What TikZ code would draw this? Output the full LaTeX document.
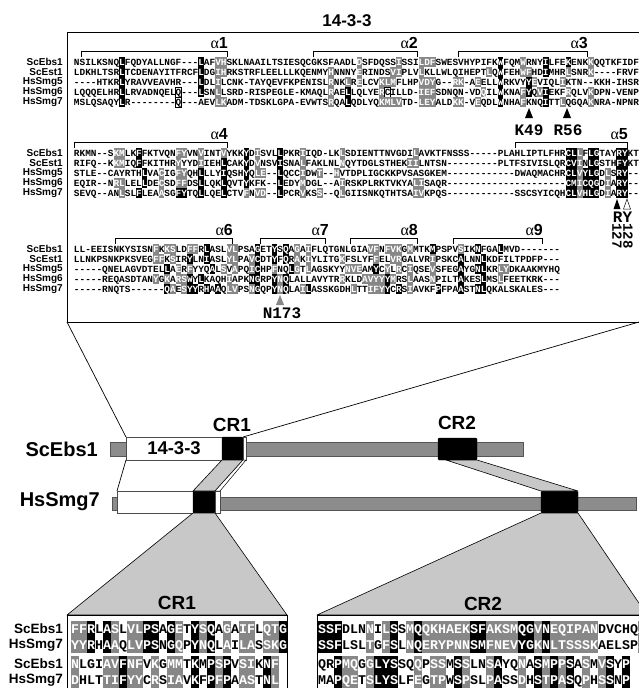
\documentclass[tikz,border=0pt]{standalone}
\usepackage{fontspec}
\setmainfont{Liberation Sans}
\newfontfamily\monof{Liberation Mono}
\newfontfamily\serf{Liberation Serif}
\usetikzlibrary{calc}
\definecolor{hlgray}{RGB}{135,135,135}
\definecolor{bargray}{RGB}{140,140,140}
\definecolor{bardark}{RGB}{85,85,85}
\definecolor{bandgray}{RGB}{200,200,200}
\newcommand\sqfs{9.42}
\newcommand\sqw{5.65}
\newcommand\sqh{10}
\newcommand\sqth{6.2}
\newcommand\sqfont{\monof\bfseries\fontsize{\sqfs}{\sqfs}\selectfont}
\newcommand\alp[1]{{\serf\mdseries α}#1}

\ExplSyntaxOn
\int_new:N \l__sq_col_int
\int_new:N \l__sq_mode_int
\int_new:N \g__sq_row_int
\tl_new:N \l__sq_x_tl
\tl_new:N \l__sq_name_tl
\cs_new_protected:Npn \__sq_cell:nnnn #1#2#3#4
  {
    \tl_set:Nx \l__sq_x_tl { \fp_eval:n { #1 + #3 * \l__sq_col_int + #3 / 2 } }
    \tl_set:Nx \l__sq_name_tl { r \int_use:N \g__sq_row_int c \int_use:N \l__sq_col_int }
    \int_case:nnF { \l__sq_mode_int }
      {
        { 1 } { \node [cellblack] (\l__sq_name_tl) at (\l__sq_x_tl , #2) {#4}; }
        { 2 } { \node [cellgray] (\l__sq_name_tl) at (\l__sq_x_tl , #2) {#4}; }
        { 3 } { \node [cellbox] (\l__sq_name_tl) at (\l__sq_x_tl , #2) {#4}; }
      }
      { \node [cellplain] (\l__sq_name_tl) at (\l__sq_x_tl , #2) {#4}; }
  }
\NewDocumentCommand \SeqRow { m m m m }
  {
    \int_gincr:N \g__sq_row_int
    \int_zero:N \l__sq_col_int
    \int_zero:N \l__sq_mode_int
    \tl_map_inline:nn {#4}
      {
        \str_if_eq:nnTF {##1} {!}
          { \int_set:Nn \l__sq_mode_int { 1 } }
          {
            \str_if_eq:nnTF {##1} {?}
              { \int_set:Nn \l__sq_mode_int { 2 } }
              {
                \str_if_eq:nnTF {##1} {*}
                  { \int_set:Nn \l__sq_mode_int { 3 } }
                  {
                    \__sq_cell:nnnn {#1} {#2} {#3} {##1}
                    \int_incr:N \l__sq_col_int
                    \int_zero:N \l__sq_mode_int
                  }
              }
          }
      }
  }
\ExplSyntaxOff

\tikzset{
  cell/.style={rectangle, inner sep=0pt, outer sep=0pt, minimum width=\sqw pt,
    minimum height=\sqh pt, text height=\sqth pt, text depth=0pt, font=\sqfont},
  cellplain/.style={cell},
  cellblack/.style={cell, fill=black, text=white},
  cellgray/.style={cell, fill=hlgray, text=white},
  cellbox/.style={cell, fill=white, draw=black, line width=0.6pt},
  lbl/.style={font=\bfseries\fontsize{10}{10}\selectfont, anchor=east, inner sep=0pt},
  alab/.style={font=\bfseries\fontsize{16}{16}\selectfont, anchor=south east, inner sep=0pt},
  brk/.style={line width=0.9pt},
  frame/.style={line width=0.8pt},
  conn/.style={line width=0.7pt},
  reslab/.style={font=\monof\bfseries\fontsize{16}{16}\selectfont, inner sep=0pt},
  biglbl/.style={font=\bfseries\fontsize{20}{20}\selectfont, anchor=east, inner sep=0pt},
  crlbl/.style={font=\bfseries\fontsize{19}{19}\selectfont, inner sep=0pt},
  panlbl/.style={font=\bfseries\fontsize{13.5}{13.5}\selectfont, anchor=east, inner sep=0pt},
  bar/.style={rectangle, fill=bargray, draw=bardark, line width=0.5pt, inner sep=0pt, outer sep=0pt},
  dom/.style={rectangle, fill=white, draw=black!70, line width=0.5pt, inner sep=0pt, outer sep=0pt},
  crbox/.style={rectangle, fill=black, draw=black, rounded corners=1.2pt, inner sep=0pt, outer sep=0pt},
  band/.style={fill=bandgray, draw=black, line width=0.6pt, line join=round},
  panel/.style={rectangle, fill=white, draw=black, line width=0.8pt, inner sep=0pt, outer sep=0pt},
}

\begin{document}
\begin{tikzpicture}[x=1pt,y=-1pt]
\useasboundingbox (0,0) rectangle (639,688);
\clip (0,0) rectangle (639,688);

% ---------- title and frame ----------
\node[font=\bfseries\fontsize{17}{17}\selectfont, inner sep=0pt] (title) at (347,21) {14-3-3};
\coordinate (fTL) at (67,32);
\coordinate (fTR) at (645,32);
\coordinate (fBL) at (67,322);
\coordinate (fBR) at (639,322);
\draw[frame] (fTR) -- (fTL) -- (fBL) -- (645,322);

% ---------- row labels ----------
\foreach \n [count=\i from 0] in {ScEbs1,ScEst1,HsSmg5,HsSmg6,HsSmg7} {
  \node[lbl] (la\i) at (63,62+10*\i) {\n};
  \node[lbl] (lb\i) at (63,153+10*\i) {\n};
  \node[lbl] (lc\i) at (63,249+10*\i) {\n};
}

% ---------- helices block 1 ----------
\draw[brk] (81,57) -- (81,51) -- (227,51) -- (227,57);
\node[alab] (h1) at (228,49) {\alp{1}};
\draw[brk] (313,57) -- (313,51) -- (417,51) -- (417,57);
\node[alab] (h2) at (418,49) {\alp{2}};
\draw[brk] (458,57) -- (458,51) -- (587,51) -- (587,57);
\node[alab] (h3) at (588,49) {\alp{3}};

% ---------- block 1 ----------
\SeqRow{74}{62}{5.65}{NSILKSNQ!LFQDYALLNGF---!LAF?V?HSKLNAAILTSIESQCGKSFAADL?DSFDQSS?ISSI?L?D?FSWESVHYPIFK!WFQM?WRNY!ILFE!KENK?KQQTKFIDF}
\SeqRow{74}{72}{5.65}{LDKHLTSR!LTCDENAYITFRCF!LDG?I?HRKSTRFLEELLLKQENMY?HNNNY?ERINDS?V?IPLV?LKLLWLQIHEPT?LQ!WFEH?W?FHD!IMHR?LSNR?K----FRVF}
\SeqRow{74}{82}{5.65}{----HTKR!LYRAVVEAVHR---!LDL?ILCNK-TAYQEVFKPENISL?RNK?LR?ELCV?K?L?MFLHP?V?D?YG--?R?K-A?EELL!WRKVY!Y?EVIQL?IKTN--KKH-IHSR}
\SeqRow{74}{92}{5.65}{LQQQELHR!LLRVADNQEL*Q---!LSN?LLSRD-RISPEGLE-KMAQL?RAE!LLQLYE?R*CILLD-?I?E?FSDNQN-VD?QIL!WKNA?F!YQ?V!IEKF?RQLV?KDPN-VENP}
\SeqRow{74}{102}{5.65}{MSLQSAQY!LR--------*Q---AEV?L?KADM-TDSKLGPA-EVWTS?RQA!LQDLYQ?K?M?L?VTD-?L?E?YALD?K?K-V?EQDL!WNHA?FKNQ!ITT?LQGQA?KNRA-NPNR}

% ---------- K49 / R56 ----------
\fill (529,108) -- (533,118) -- (525,118) -- cycle;
\node[reslab] (k49) at (529,130) {K49};
\fill (567,108) -- (571,118) -- (563,118) -- cycle;
\node[reslab] (r56) at (568,130) {R56};

% ---------- helices block 2 ----------
\draw[brk] (74,148) -- (74,142) -- (227,142) -- (227,148);
\node[alab] (h4) at (228,140) {\alp{4}};
\draw[brk] (515,148) -- (515,142) -- (627,142) -- (627,148);
\node[alab] (h5) at (628,140) {\alp{5}};

% ---------- block 2 ----------
\SeqRow{74}{153}{5.65}{RKMN--S?K?MLK!FFKTVQN?F?YVN?VINT?VYKK!YD?ISVL!LPKR?IIQD-LK?LSDIENTTNVGDI?LAVKTFNSSS-----PLAHLIPTLFHR!C!L?LF!L!GTAY!R!YKT}
\SeqRow{74}{163}{5.65}{RIFQ--K?K?MIQ!FFKITHR?YYYD?IIEH!LCAK!YD?VNSV!ISNA?LFAKLNL?NQYTDGLSTHEK?I?ILNTSN---------PLTFSIVISLQR!C!V?IN!L!GSTH!F!YKT}
\SeqRow{74}{173}{5.65}{STLE--CAYRTH!LVA?CIG?F?YQH!LLLY!IQSH!YQ?L?E--!LQCC?IDW?T--?HVTDPLIGCKKPVSASGKEM------------DWAQMACHR!C!L?V!Y!L!GD?LS!R!Y--}
\SeqRow{74}{183}{5.65}{EQIR--N?R?LLEL!LDE?CSD?F?FDS!LLQK!LQVT!YKFK--!LEDY?MDGL--A?IRSKPLRKTVKYA?L?ISAQR---------------------!C!M?I!C!Q!GD?IA!R!Y--}
\SeqRow{74}{193}{5.65}{SEVQ--AN?LSL!FLEA?ASG!F!YTQ!LLQE!LCTV?FN?V?D--!LPCR?VKS?S--Q?LGIISNKQTHTSA?I?VKPQS------------SSCSYICQH!C!L?V!H!L!GD?IA!R!Y--}

% ---------- RY 127/128 ----------
\fill (617,199) -- (620.5,209) -- (613.5,209) -- cycle;
\draw[fill=white, line width=0.5pt] (627,199) -- (630.5,209) -- (623.5,209) -- cycle;
\node[reslab] (ry) at (622.5,217) {RY};
\node[reslab, font=\monof\bfseries\fontsize{14}{14}\selectfont, rotate=-90, anchor=west] (n127) at (617,223) {127};
\node[reslab, font=\monof\bfseries\fontsize{14}{14}\selectfont, rotate=-90, anchor=west] (n128) at (628,223) {128};

% ---------- helices block 3 ----------
\draw[brk] (115,244) -- (115,238) -- (232,238) -- (232,244);
\node[alab] (h6) at (233,236) {\alp{6}};
\draw[brk] (260,244) -- (260,238) -- (325,238) -- (325,244);
\node[alab] (h7) at (329,236) {\alp{7}};
\draw[brk] (350,244) -- (350,238) -- (417,238) -- (417,244);
\node[alab] (h8) at (418,236) {\alp{8}};
\draw[brk] (453,244) -- (453,238) -- (542,238) -- (542,244);
\node[alab] (h9) at (543,236) {\alp{9}};

% ---------- block 3 ----------
\SeqRow{74}{249}{5.65}{LL-EEISNKYSISN?FK?K?SLD?F?FR!LASL?V?LPSA!GET!YS!QA?GA?IFLQTGNLGIA?V?FN?F?V?KG?MMTK!MPSPV?SIK!NFGA!LMVD-------}
\SeqRow{74}{259}{5.65}{LLNKPSNKPKSVEG?F?FK?SIR!YLN!IASL?Y?LPA?V!CDT!YF!QR?AK?IYLITG?KFSLYF?FEL?V?RGALVR?IPSKC!ALNN!LKDFILTPDFP---}
\SeqRow{74}{269}{5.65}{-----QNELAGVDTEL!LA?ER?FYYQ!AL?SV?APQ?I!CHP?FNQ!L?GT?LAGSKYY?N?V?EAM!YC?YL?RC?IQSE?VSFEG!AYG!N!LKR?L?YDKAAKMYHQ}
\SeqRow{74}{279}{5.65}{-----REQASDTAN?YG?KA?R?S!WY!LKAQH?IAPK!N!GRP!Y?N!QLALLAVYTR?RKLD?A?V?Y?Y!Y?MRS?LAAS?NPILT!AKES!LMS?LFEETKRK---}
\SeqRow{74}{289}{5.65}{-----RNQTS------!Q?AE?S!Y!YR!HA!AQ?L?VPS?N!GQP!Y?N!QLA?I!LASSKGDH?LTT?I?F?Y!YC!RS?IAVKF!PFPA!AST!N!LQKALSKALES---}

% ---------- N173 ----------
\fill[hlgray] (280,295) -- (284,305) -- (276,305) -- cycle;
\node[reslab] (n173) at (282,313) {N173};

% ---------- domain diagrams ----------
\node[bar, minimum width=413pt, minimum height=14pt] (ebsbar) at (316.5,449) {};
\node[bar, minimum width=524pt, minimum height=13pt] (smgbar) at (374,503.5) {};
\node[dom, minimum width=96pt, minimum height=23pt, font=\bfseries\fontsize{18.5}{18.5}\selectfont] (ebs1433) at (174,448.5) {14-3-3};
\node[crbox, minimum width=21pt, minimum height=23pt] (ebscr1) at (232.5,448.5) {};
\node[dom, minimum width=3pt, minimum height=23pt] (ebswht) at (244.5,448.5) {};
\node[crbox, minimum width=39pt, minimum height=22pt] (ebscr2) at (457.5,449) {};
\node[dom, minimum width=76pt, minimum height=22pt] (smgdom) at (155,502) {};
\node[crbox, minimum width=22pt, minimum height=22pt] (smgcr1) at (204,502) {};
\node[dom, minimum width=5pt, minimum height=22pt] (smgwht) at (217.5,502) {};
\node[crbox, minimum width=37pt, minimum height=22pt] (smgcr2) at (559.5,502) {};

\node[biglbl] (lebs) at (98,449) {ScEbs1};
\node[biglbl] (lsmg) at (100,502) {HsSmg7};
\node[crlbl] (lcr1) at (232,425) {CR1};
\node[crlbl] (lcr2) at (457,423) {CR2};

% bands between the two proteins
\filldraw[band] (ebscr1.south west) -- (ebscr1.south east) -- (smgcr1.north east) -- (smgcr1.north west) -- cycle;
\filldraw[fill=white, draw=black, line width=0.5pt] (ebswht.south west) -- (ebswht.south east) -- (smgwht.north east) -- (smgwht.north west) -- cycle;
\filldraw[band] ($(ebscr2.south west)+(8,0)$) -- (ebscr2.south east) -- (smgcr2.north east) -- (smgcr2.north west) -- cycle;

% zoom lines
\draw[conn] (fBL) -- (ebs1433.north west);
\draw[conn] (fBR) -- (ebscr1.north east);
\draw[conn] (ebs1433.south west) -- (smgdom.north west);

% ---------- bottom panels ----------
\node[panel, minimum width=220pt, minimum height=80pt] (p1) at (177,655) {};
\node[panel, minimum width=382pt, minimum height=80pt] (p2) at (508,655) {};
\coordinate (p2r) at (647,615);
\filldraw[band] (smgcr1.south west) -- (p1.north west) -- (p1.north east) -- (smgcr1.south east) -- cycle;
\filldraw[band] (smgcr2.south west) -- (p2.north west) -- (p2r) -- (smgcr2.south east) -- cycle;
\node[panel, minimum width=220pt, minimum height=80pt] (p1b) at (177,655) {};
\node[panel, minimum width=382pt, minimum height=80pt] (p2b) at (508,655) {};
\node[crlbl] (bcr1) at (177,603) {CR1};
\node[crlbl] (bcr2) at (483,604) {CR2};

\node[panlbl] (pl1) at (63,629) {ScEbs1};
\node[panlbl] (pl2) at (63,645) {HsSmg7};
\node[panlbl] (pl3) at (63,664) {ScEbs1};
\node[panlbl] (pl4) at (63,680) {HsSmg7};

\renewcommand\sqfs{13.3}
\renewcommand\sqw{8}
\renewcommand\sqh{16}
\renewcommand\sqth{8.8}
\SeqRow{71}{629}{8}{?F?F!RL!A?SL?V?L!P!SA!G?ET!Y?S!QA?GA?I?FL?Q?T!G}
\SeqRow{71}{645}{8}{?Y?Y!RH!A?AQ?L?V!P!SN!G?QP!Y?N!QL?AI?L?AS?S?K!G}
\SeqRow{71}{664}{8}{?NLGI?A?V!F?N?FV?KG?M?MT!KM!P?S!PV?S?IK!N?F}
\SeqRow{71}{680}{8}{?DHLT?T?I!F?Y?YC?RS?I?AV!KF!P?F!PA?A?ST!N?L}

\SeqRow{318}{629}{8}{!S!S!FDLN?NI?L!SS?M!Q?Q?K?H?A?E?K!S!F?A?K?S?M!Q!G?V!N?E?Q?I?P?A?NDVCHQ?A}
\SeqRow{318}{645}{8}{!S!S!FLSL?TG?F!SL?N!Q?E?R?Y?P?N?N!S!M?F?N?E?V!Y!G?K!N?L?T?S?S?S?KAELSP?S}
\SeqRow{318}{664}{8}{QR!P?M?QG?G!L!Y!SSQ?QP?S?SM!S?SLN?S!AYQ?NA!S?M!P?P!SA?SM?V!SY!P}
\SeqRow{318}{680}{8}{MA!P?Q?ET?S!L!Y!SLF?EG?T?PW!S?PSL?P!ASS?DH!S?T!P?A!SQ?PH?S!SN!P}

\end{tikzpicture}
\end{document}
